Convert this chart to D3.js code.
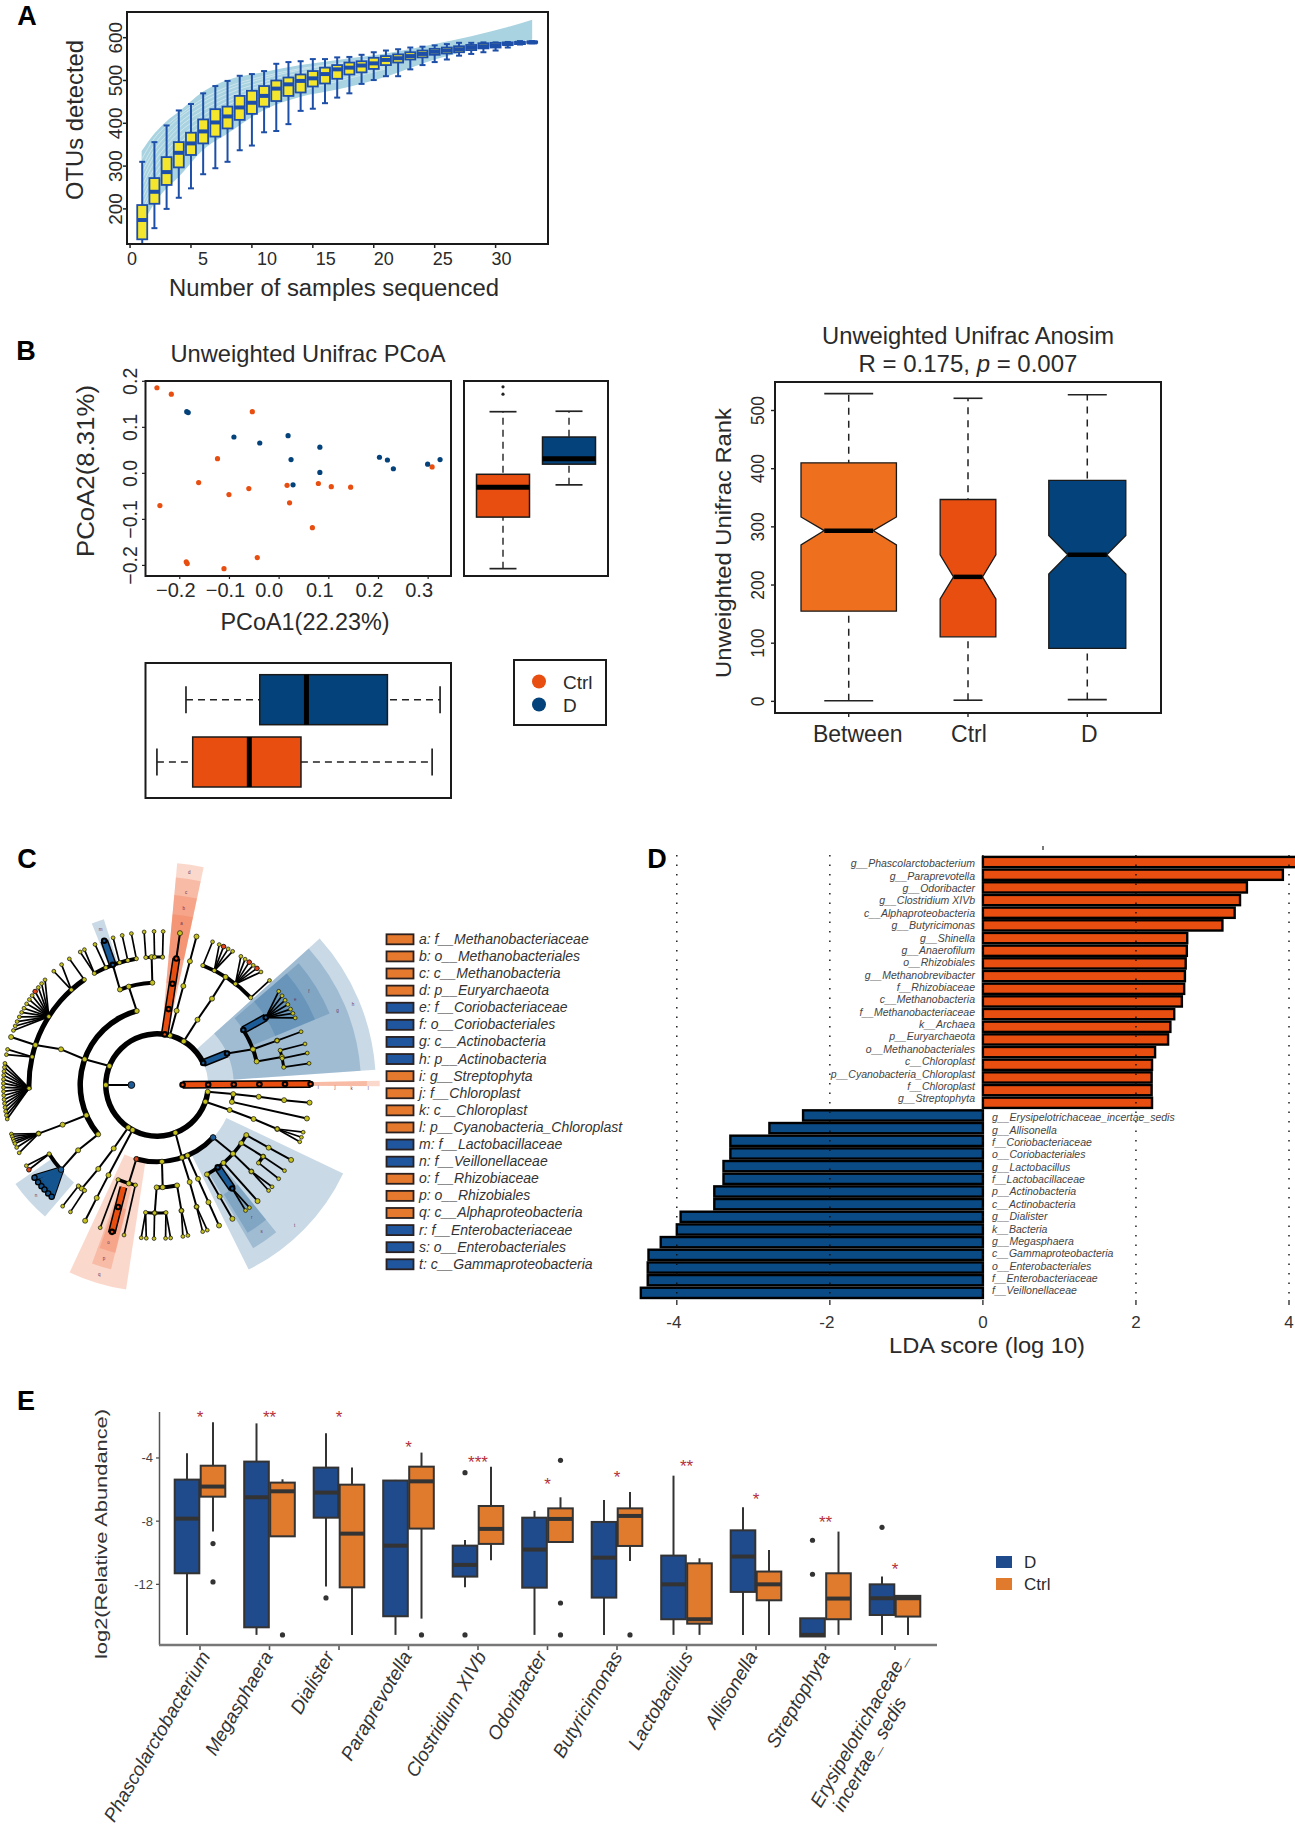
<!DOCTYPE html>
<html><head><meta charset="utf-8">
<script src="https://cdn.jsdelivr.net/npm/d3@7/dist/d3.min.js"></script>
<style>html,body{margin:0;padding:0;background:#fff}svg{display:block}text{font-family:"Liberation Sans",Arial,sans-serif}</style>
</head><body><svg id="c" width="1295" height="1830"></svg>
<script>
// ---------- Panel A data ----------
const otuSamples=d3.range(1,34);
const otuLow=[105,155,200,226,248,281,295,310,337,348,379,382,398,429,434,447,460,470,492,501,510,510,526,536,543,549,558,562,566,570,577,584,587];
const otuQ1=[129,212,256,297,326,353,369,388,408,422,439,452,464,472,486,493,504,514,519,527,536,542,549,554,560,563,566,571,575,577,583,585,588];
const otuMed=[174,240,286,331,353,381,402,416,437,448,464,481,491,499,505,515,526,530,535,540,548,552,557,562,567,570,573,577,580,582,585,588,589];
const otuQ3=[209,272,321,356,378,409,433,439,464,476,487,500,507,514,522,530,536,542,545,553,557,561,566,570,574,577,580,583,587,588,589,590,591];
const otuHigh=[310,356,395,430,445,470,487,499,511,515,522,539,543,545,550,550,554,555,560,566,570,573,577,579,582,585,588,588,589,589,590,592,592];
const bandX=[0.95,2,3,4,6,8,11,14,17,21,25,31,33];
const bandUpper=[335,376,405,427,474,501,520,536,548,563,585,625,642];
const bandLower=[159,213,248,275,338,376,431,462,479,509,549,587,595];
const curveX=[1,2,3,4,6,8,11,14,17,21];
const curves=[[318,365,395,418,458,485,510,528,540,555],[300,350,385,412,450,478,505,525,538,553],[285,338,372,400,440,469,497,518,533,549],[270,325,360,390,430,460,490,512,528,546],[255,310,348,378,419,451,482,506,523,543],[240,295,335,365,408,442,475,500,518,540],[225,280,320,352,396,433,467,494,513,536],[210,265,305,340,385,425,460,488,508,533],[197,252,292,327,373,415,452,481,503,530],[185,240,280,315,362,405,445,475,498,527]];
const otuXTicks=[0,5,10,15,20,25,30];
const otuXLabelShift=[2,12,15,13,10,8,6];
const otuYTicks=[200,300,400,500,600];

// ---------- Panel B data ----------
const ctrlPts=[[-.246,.186],[-.217,.172],[-.054,.134],[-.124,.032],[-.162,-.020],[-.240,-.070],[-.101,-.046],[-.061,-.033],[.016,-.026],[.021,-.064],[.079,-.022],[.105,-.029],[.144,-.030],[.067,-.118],[-.044,-.183],[-.187,-.192],[-.185,-.196],[-.111,-.207],[.308,.014]];
const dPts=[[-.186,.134],[-.183,.132],[-.091,.079],[-.039,.066],[.018,.082],[.082,.057],[.024,.030],[.082,.002],[.028,-.025],[.202,.035],[.218,.029],[.230,.010],[.299,.020],[.324,.030]];
const pcoaXTicks=[-.2,-.1,0,.1,.2,.3];
const pcoaYTicks=[-.2,-.1,0,.1,.2];
const pc2Ctrl=[-.207,-.095,-.03,-.002,.134], pc2D=[-.025,.020,.032,.079,.135], pc2Out=[.188,.172];
const pc1D=[-.1875,-.039,.055,.218,.324], pc1Ctrl=[-.246,-.174,-.06,.044,.308];
const anoCats=["Between","Ctrl","D"];
const anoLow=[1,2,3],anoQ1=[155,111,91],anoNL=[269,176,219],anoMed=[293.5,214,252],anoNU=[317,252,285],anoQ3=[410,347,380],anoHigh=[529,521,527];
const anoBoxW=[.8,.467,.646];
const anoCapW=[.41,.243,.327];
const anoLabelShift=[9,1,2];
const anoYTicks=[0,100,200,300,400,500];

// ---------- Panel C data ----------
const legendC=["a: f__Methanobacteriaceae","b: o__Methanobacteriales","c: c__Methanobacteria","d: p__Euryarchaeota","e: f__Coriobacteriaceae","f: o__Coriobacteriales","g: c__Actinobacteria","h: p__Actinobacteria","i: g__Streptophyta","j: f__Chloroplast","k: c__Chloroplast","l: p__Cyanobacteria_Chloroplast","m: f__Lactobacillaceae","n: f__Veillonellaceae","o: f__Rhizobiaceae","p: o__Rhizobiales","q: c__Alphaproteobacteria","r: f__Enterobacteriaceae","s: o__Enterobacteriales","t: c__Gammaproteobacteria"];
const legendCGroup=["Ctrl","Ctrl","Ctrl","Ctrl","D","D","D","D","Ctrl","Ctrl","Ctrl","Ctrl","D","D","Ctrl","Ctrl","Ctrl","D","D","D"];
const wedgesOrange=[[5.2,12.1,2,8.7],[5.2,12.1,3,8.14],[5.2,12.1,4,7.45],[5.2,12.1,5,6.7],[88.9,90.3,1,8.7],[88.9,90.3,2,8.2],[188.6,205,3,8.08],[194,200,4,7.42],[193.9,199.4,5,6.75]];
const wedgesBlue=[[48,86,2,8.55],[48,86,3,7.97],[49.3,67.5,4,7.3],[49.3,67.5,5,6.68],[115.4,153.6,3,8.05],[141,149.5,4,7.4],[141,148.5,5,6.77],[220.4,235,5,6.75],[338,342.2,5,6.8]];
const arcs=[[2,97.6,424.6,5.5],[3,230,344.7,5.5],[5,268,325.4,5],[5,330.7,350.7,4],[4,338.8,357.4,4],[5,355,362.5,3],[5,21,47,4],[4,57.5,76.7,4],[5,74.3,82,3],[3,133.1,195.6,5],[3,96.8,102.7,3.5],[4,119.3,150.8,3.5],[5,124,127.5,3.5],[4,168.7,180.2,4],[5,176,185.1,3],[4,192.2,202.3,3.5],[5,214.5,217.9,3.5],[5,228.6,237.4,4]];
const chains=[
[[291.8,2],[289.6,3],[290.4,4],[288.2,5],[288.2,6]],[[344.7,3],[344,4]],[[338.8,4],[339.8,5]],[[357.4,4],[357.6,5]],
[[14.6,2],[14.8,3],[14.9,4],[14.9,5],[14.9,6]],[[31.5,2],[31.8,3],[32.5,4],[32.4,5]],[[97.6,2],[96.8,3],[96.6,4],[96.8,5],[96.6,6]],
[[102.7,3],[102.6,6]],[[109.1,2],[109,3],[109.4,4],[110.1,5]],[[158.9,2],[161,3],[161.4,4],[162,5]],[[156.6,3],[156.4,4],[156.3,5],[156.2,6]],
[[176.3,3],[176.8,4]],[[168.7,4],[169,5]],[[180.2,4],[181,5]],[[195.6,3],[196,4]],[[214.1,2],[214.3,3],[215,4],[216,5]],[[208.5,2],[208.3,4],[208.1,5],[207.9,6]],
[[230,3],[230.4,4],[228.6,5]],[[246.8,3],[247.2,4],[247.7,5]],[[133.1,3],[132.1,4],[132.5,5]],[[69.6,4],[69.7,5]],[[76.7,4],[77.4,5]],[[65.8,3],[69.6,4]],
[[124.6,4],[124,5]],[[119.3,4],[119.3,5],[119.2,6]],[[139.5,4],[139.1,6]],[[150.8,4],[150.7,5],[150.6,6]],[[8.7,5],[8.6,6]],[[270,2],[270,1]]];
const fans=[
[302.3,5,[313.2,311.3,309.4,307.5,305.6,303.8,301.9,300,298.2,296.3,294.4,292.6,290.8]],[282.7,5,[283.4,281.4]],
[268.5,5,[278.1,276.6,275.1,273.6,272.1,270.6,269.1,267.6,266.1,264.6,263.1,261.6,260.1,258.6,257.2]],[325.4,5,[325.2]],[318,5,[321.6,317.8]],[330.7,5,[330,331.8]],[336.4,5,[336.2]],[343,5,[343.4]],[346.8,5,[346.9]],[350.7,5,[350.4]],
[355,5,[355.2]],[358.9,5,[358.9]],[2.5,5,[2.3]],[21,5,[21.2]],[26.6,5,[23.9,25.7,27.6,29.5]],[37.8,5,[33.1,35,36.9,38.8,40.6,42.6]],[47,5,[47.1]],
[58.2,5,[52.4,54.5,56.5,58.4,60.4,62.2,64.1]],[69.7,5,[69.7]],[74.3,5,[74.5]],[78,5,[78]],[82,5,[81.9]],[110.1,5,[107.9,109.9,111.7]],[144,5,[144.8,143]],[124,5,[123.9]],[127.5,5,[127.6]],[132.5,5,[131.5,133.4]],
[162,5,[162.7,160.9]],[169,5,[170.3,168.4]],[185.1,5,[185.9,184]],[181.1,5,[181.1]],[176,5,[176.8,174.9]],[217.9,5,[217.9]],[214.5,5,[214.3]],[237.4,5,[236.5,238.3]],
[247.7,5,[251.4,250.4,249.4,248.5,247.6,246,243.8]],[202.3,4,[201.7]],[192.2,4,[192.4]]];
const blueFan=[228.6,5,[232.9,230.7,228.8,227.1,225.1,223.3]];
const barsOrange=[[8.7,2,8.7,5],[89.6,1,89.6,6],[198.2,4.2,197,6.05]];
const barsBlue=[[64.6,2,65.8,3],[57.5,4,58.2,5],[339.8,5,339.9,6],[143.6,4,144,5]];
const redLeaves=[[307.5,6],[25.7,6],[36.9,6],[40.6,6],[236.5,6],[195.6,3]];
const blueNodes=[[270,1],[133.1,3],[228.6,5]];
const cladeLetters=[[8.6,8.4,"d"],[8.6,7.62,"c"],[8.6,6.97,"b"],[8.6,6.38,"a"],[90.9,6.3,"i"],[90.9,6.95,"j"],[90.9,7.6,"k"],[90.9,8.25,"l"],[67.6,8.28,"h"],[67.7,7.62,"g"],[58.3,6.97,"f"],[58.4,6.34,"e"],[135.6,7.68,"t"],[144.5,7.03,"s"],[144.4,6.35,"r"],[197,7.73,"q"],[197,7.08,"p"],[197.1,6.43,"o"],[227.6,6.4,"n"],[340,6.45,"m"]];

// ---------- Panel D data ----------
const ldaCtrlNames=["g__Phascolarctobacterium","g__Paraprevotella","g__Odoribacter","g__Clostridium XIVb","c__Alphaproteobacteria","g__Butyricimonas","g__Shinella","g__Anaerofilum","o__Rhizobiales","g__Methanobrevibacter","f__Rhizobiaceae","c__Methanobacteria","f__Methanobacteriaceae","k__Archaea","p__Euryarchaeota","o__Methanobacteriales","c__Chloroplast","p__Cyanobacteria_Chloroplast","f__Chloroplast","g__Streptophyta"];
const ldaCtrl=[4.12,3.92,3.45,3.36,3.29,3.13,2.67,2.665,2.65,2.64,2.63,2.60,2.50,2.45,2.42,2.25,2.21,2.205,2.205,2.21];
const ldaDNames=["g__Erysipelotrichaceae_incertae_sedis","g__Allisonella","f__Coriobacteriaceae","o__Coriobacteriales","g__Lactobacillus","f__Lactobacillaceae","p__Actinobacteria","c__Actinobacteria","g__Dialister","k__Bacteria","g__Megasphaera","c__Gammaproteobacteria","o__Enterobacteriales","f__Enterobacteriaceae","f__Veillonellaceae"];
const ldaD=[-2.35,-2.79,-3.30,-3.30,-3.39,-3.39,-3.51,-3.51,-3.95,-4.0,-4.21,-4.37,-4.38,-4.38,-4.47];
const ldaTicks=[-4,-2,0,2,4];

// ---------- Panel E data ----------
const genera=["Phascolarctobacterium","Megasphaera","Dialister","Paraprevotella","Clostridium XIVb","Odoribacter","Butyricimonas","Lactobacillus","Allisonella","Streptophyta","Erysipelotrichaceae_"];
const genusShift=[11,4,-4,4,9,0,6,7,2,5,14];
const genusLastLine="incertae_ sedis";
const boxD=[[-15.2,-11.3,-7.84,-5.37,-3.70],[-15.2,-14.72,-6.49,-4.23,-1.81],[-12.14,-7.78,-6.19,-4.61,-2.44],[-15.2,-14.02,-9.55,-5.43,-5.39],[-12.19,-11.51,-10.77,-9.55,-9.19],[-15.2,-12.21,-9.80,-7.78,-7.35],[-15.2,-12.84,-10.31,-8.05,-6.66],[-15.2,-14.21,-12.0,-10.18,-5.12],[-15.2,-12.48,-10.24,-8.58,-7.12],[-15.3,-15.3,-15.2,-14.15,-14.15],[-15.2,-13.94,-12.88,-12.0,-11.51]];
const boxCtrl=[[-8.66,-6.45,-5.81,-4.49,-1.74],[-8.96,-8.96,-6.11,-5.56,-5.35],[-15.2,-12.19,-8.79,-5.69,-4.61],[-14.17,-8.47,-5.48,-4.55,-3.66],[-10.48,-9.44,-8.49,-7.04,-4.55],[-9.34,-9.32,-7.86,-7.19,-6.49],[-10.52,-9.57,-7.67,-7.19,-6.15],[-15.2,-14.49,-14.21,-10.67,-10.35],[-15.2,-13.01,-12.0,-11.19,-9.82],[-15.2,-14.21,-12.9,-11.3,-8.66],[-15.2,-14.04,-12.88,-12.73,-12.73]];
const outD=[[],[],[-12.86],[],[-4.93,-15.2],[],[],[],[],[-9.21,-11.36],[-8.39]];
const outCtrl=[[-9.42,-11.85],[-15.2],[],[-15.2],[],[-4.15,-13.18,-15.2],[-15.2],[],[],[],[]];
const stars=["*","**","*","*","***","*","*","**","*","**","*"];
const starY=[-1.3,-1.3,-1.3,-3.2,-4.1,-5.5,-5.1,-4.4,-6.5,-7.9,-10.9];
const abTicks=[-4,-8,-12];

// ---------- colours ----------
const ORANGE="#E84E10",NAVY="#03427A",LORANGE="#EE6F1E",INK="#2a2a2a";
const svg=d3.select("#c");
svg.append("rect").attr("width",1295).attr("height",1830).attr("fill","#fff");
function T(str,x,y,o={}){
  const t=svg.append("text").attr("x",x).attr("y",y).text(str)
   .attr("font-size",o.size||16).attr("fill",o.fill||INK).attr("text-anchor",o.anchor||"middle");
  if(o.rot!==undefined)t.attr("transform",`rotate(${o.rot} ${x} ${y})`);
  if(o.italic)t.attr("font-style","italic");
  if(o.bold)t.attr("font-weight","bold");
  if(o.len)t.attr("textLength",o.len).attr("lengthAdjust","spacingAndGlyphs");
  return t;
}
function frame(x0,y0,x1,y1,w=2){svg.append("rect").attr("x",x0).attr("y",y0).attr("width",x1-x0).attr("height",y1-y0).attr("fill","none").attr("stroke","#1a1a1a").attr("stroke-width",w);}
function L(p,x1,y1,x2,y2,c,w,dash){const l=p.append("line").attr("x1",x1).attr("y1",y1).attr("x2",x2).attr("y2",y2).attr("stroke",c).attr("stroke-width",w);if(dash)l.attr("stroke-dasharray",dash);return l;}
[["A",27,25],["B",26,360],["C",27,868],["D",657,868],["E",26,1410]].forEach(d=>T(d[0],d[1],d[2],{size:27,bold:true,fill:"#000"}));

// ---------- Panel A ----------
(function(){
 const x=d3.scaleLinear([-0.25,34.3],[127,548]),y=d3.scaleLinear([118,660],[244,12]);
 const area=d3.area().x((d,i)=>x(bandX[i])).y0((d,i)=>y(bandLower[i])).y1(d=>y(d)).curve(d3.curveMonotoneX);
 svg.append("path").attr("d",area(bandUpper)).attr("fill","#A9D3E0");
 const line=d3.line().x((d,i)=>x(curveX[i])).y(d=>y(d)).curve(d3.curveMonotoneX);
 curves.forEach(c=>svg.append("path").attr("d",line(c)).attr("fill","none").attr("stroke","#fff").attr("stroke-opacity",.42).attr("stroke-width",1));
 const B="#1E4FA8",Y="#F4E62C";
 const g=svg.append("g");
 otuSamples.forEach((s,i)=>{
  const cx=x(s),hw=5,cap=3;
  L(g,cx,Math.min(y(otuLow[i]),243),cx,y(otuHigh[i]),B,2);
  L(g,cx-cap,y(otuHigh[i]),cx+cap,y(otuHigh[i]),B,2);
  if(otuLow[i]>=118)L(g,cx-cap,y(otuLow[i]),cx+cap,y(otuLow[i]),B,2);
  g.append("rect").attr("x",cx-hw).attr("y",y(otuQ3[i])).attr("width",2*hw).attr("height",y(otuQ1[i])-y(otuQ3[i])).attr("fill",Y).attr("stroke",B).attr("stroke-width",1.8);
  L(g,cx-hw,y(otuMed[i]),cx+hw,y(otuMed[i]),B,4);
 });
 frame(127,12,548,244,2);
 otuXTicks.forEach((t,i)=>{L(svg,x(t),244,x(t),248,"#222",1.5);T(t,x(t)+otuXLabelShift[i],265,{size:18});});
 otuYTicks.forEach(t=>{T(t,122,y(t),{size:19,rot:-90});L(svg,123,y(t),127,y(t),"#222",1.5);});
 T("OTUs detected",83,120,{size:24,rot:-90,len:160});
 T("Number of samples sequenced",334,296,{size:23.5,len:330});
})();

// ---------- Panel B ----------
(function(){
 const x=d3.scaleLinear([-.269,.346],[145.5,451]),y=d3.scaleLinear([-.223,.2007],[576,381]);
 svg.selectAll(".pc").data(ctrlPts).enter().append("circle").attr("cx",d=>x(d[0])).attr("cy",d=>y(d[1])).attr("r",2.6).attr("fill",ORANGE);
 svg.selectAll(".pd").data(dPts).enter().append("circle").attr("cx",d=>x(d[0])).attr("cy",d=>y(d[1])).attr("r",2.6).attr("fill",NAVY);
 frame(145.5,381,451,576);
 const xShift=[-4,-4,-10,-9,-9,-9];
 pcoaXTicks.forEach((t,i)=>{L(svg,x(t),576,x(t),579,"#222",1.2);T((t<0?"−":"")+Math.abs(t).toFixed(1),x(t)+xShift[i],597,{size:20});});
 pcoaYTicks.forEach(t=>{L(svg,142,y(t),145.5,y(t),"#222",1.2);T((t<0?"−":"")+Math.abs(t).toFixed(1),137,y(t),{size:19.5,rot:-90});});
 T("Unweighted Unifrac PCoA",308,362,{size:24,len:275});
 T("PCoA1(22.23%)",305,630,{size:23,len:169});
 T("PCoA2(8.31%)",94,471,{size:23,rot:-90,len:172});
 // right marginal box
 frame(464,381,608,576);
 const vbox=(v,c,cx)=>{
  L(svg,cx,y(v[0]),cx,y(v[4]),"#222",1.4,"7 5");
  L(svg,cx-13.5,y(v[0]),cx+13.5,y(v[0]),"#222",1.7);
  L(svg,cx-13.5,y(v[4]),cx+13.5,y(v[4]),"#222",1.7);
  svg.append("rect").attr("x",cx-26.5).attr("y",y(v[3])).attr("width",53).attr("height",y(v[1])-y(v[3])).attr("fill",c).attr("stroke","#1a1a1a").attr("stroke-width",1.5);
  L(svg,cx-26.5,y(v[2]),cx+26.5,y(v[2]),"#000",5);
 };
 vbox(pc2Ctrl,ORANGE,503); vbox(pc2D,NAVY,569);
 pc2Out.forEach(v=>svg.append("circle").attr("cx",503).attr("cy",y(v)).attr("r",1.6).attr("fill","#222"));
 // bottom marginal box
 frame(145.5,663,451,798);
 const hbox=(v,c,cy)=>{
  L(svg,x(v[0]),cy,x(v[4]),cy,"#222",1.6,"7 5");
  L(svg,x(v[0]),cy-13.5,x(v[0]),cy+13.5,"#222",1.7);
  L(svg,x(v[4]),cy-13.5,x(v[4]),cy+13.5,"#222",1.7);
  svg.append("rect").attr("x",x(v[1])).attr("y",cy-25).attr("width",x(v[3])-x(v[1])).attr("height",50).attr("fill",c).attr("stroke","#1a1a1a").attr("stroke-width",1.5);
  L(svg,x(v[2]),cy-25,x(v[2]),cy+25,"#000",5);
 };
 hbox(pc1D,NAVY,699.7); hbox(pc1Ctrl,ORANGE,762);
 // legend
 frame(514,660,606,725);
 svg.append("circle").attr("cx",539).attr("cy",681.5).attr("r",7).attr("fill",ORANGE);
 svg.append("circle").attr("cx",539).attr("cy",704.5).attr("r",7).attr("fill",NAVY);
 T("Ctrl",563,689,{size:19,anchor:"start"});
 T("D",563,712,{size:19,anchor:"start"});

 // Anosim
 const X=d3.scaleLinear([.382,3.618],[775,1161]),Y=d3.scaleLinear([-20,549],[713,382]);
 frame(775,382,1161,713);
 const cols=[LORANGE,ORANGE,NAVY],unit=X(2)-X(1);
 anoCats.forEach((c,i)=>{
  const cx=X(i+1),hw=anoBoxW[i]*unit/2,cw=anoCapW[i]*unit/2;
  L(svg,cx,Y(anoLow[i]),cx,Y(anoHigh[i]),"#222",1.5,"7 6");
  L(svg,cx-cw,Y(anoLow[i]),cx+cw,Y(anoLow[i]),"#222",1.6);
  L(svg,cx-cw,Y(anoHigh[i]),cx+cw,Y(anoHigh[i]),"#222",1.6);
  const pts=[[cx-hw,anoQ1[i]],[cx-hw,anoNL[i]],[cx-cw,anoMed[i]],[cx-hw,anoNU[i]],[cx-hw,anoQ3[i]],[cx+hw,anoQ3[i]],[cx+hw,anoNU[i]],[cx+cw,anoMed[i]],[cx+hw,anoNL[i]],[cx+hw,anoQ1[i]]];
  svg.append("path").attr("d",d3.line().x(d=>d[0]).y(d=>Y(d[1])).curve(d3.curveLinearClosed)(pts)).attr("fill",cols[i]).attr("stroke","#1a1a1a").attr("stroke-width",1.3);
  L(svg,cx-cw,Y(anoMed[i]),cx+cw,Y(anoMed[i]),"#000",4.5);
  L(svg,cx,713,cx,717,"#222",1.4);
  T(c,cx+anoLabelShift[i],742,{size:23});
 });
 anoYTicks.forEach(t=>{L(svg,771,Y(t),775,Y(t),"#222",1.4);T(t,764,Y(t),{size:17.5,rot:-90});});
 T("Unweighted Unifrac Rank",731,543,{size:22.5,rot:-90,len:270});
 T("Unweighted Unifrac Anosim",968,344,{size:23,len:292});
 const t2=svg.append("text").attr("x",968).attr("y",372).attr("text-anchor","middle").attr("font-size",24).attr("fill",INK);
 t2.append("tspan").text("R = 0.175, ");
 t2.append("tspan").attr("font-style","italic").text("p");
 t2.append("tspan").text(" = 0.007");
})();

// ---------- Panel C ----------
(function(){
 const cg=svg.append("g").attr("transform","translate(157,1085)");
 const r=d3.scaleLinear([0,6],[0,153.6]);
 const rad=a=>a*Math.PI/180;
 const pt=(a,l)=>d3.pointRadial(rad(a),r(l));
 const arc=d3.arc();
 const wedge=(w,c,op)=>cg.append("path").attr("d",arc({innerRadius:r(w[2]),outerRadius:r(w[3]),startAngle:rad(w[0]),endAngle:rad(w[1])})).attr("fill",c).attr("fill-opacity",op);
 wedgesOrange.forEach(w=>wedge(w,"#EE6A3A",.26));
 wedgesBlue.forEach(w=>wedge(w,"#1F5F96",.24));
 arcs.forEach(a=>cg.append("path").attr("d",arc({innerRadius:r(a[0])-a[3]/2,outerRadius:r(a[0])+a[3]/2,startAngle:rad(a[1]),endAngle:rad(a[2])})).attr("fill","#000"));
 const nodes=[];
 const seg=(a,b,w,c)=>{const p=pt(a[0],a[1]),q=pt(b[0],b[1]);return L(cg,p[0],p[1],q[0],q[1],c||"#000",w);};
 chains.forEach(ch=>{for(let i=1;i<ch.length;i++)seg(ch[i-1],ch[i],2);ch.forEach(n=>nodes.push([n[0],n[1],2.5]));});
 fans.forEach(f=>{f[2].forEach(l=>{seg([f[0],f[1]],[l,6],1.7);nodes.push([l,6,1.9]);});nodes.push([f[0],f[1],2.1]);});
 // blue-filled fan
 blueFan[2].forEach(l=>{seg([blueFan[0],blueFan[1]],[l,6],6.5,"#000");});
 blueFan[2].forEach(l=>{seg([blueFan[0],blueFan[1]],[l,6],4.5,"#14548F");});
 const bar=(b,c)=>{
  seg([b[0],b[1]],[b[2],b[3]],8,"#000");seg([b[0],b[1]],[b[2],b[3]],5,c);
  for(let l=Math.ceil(b[1]);l<=Math.floor(b[3]);l++){const a=b[0]+(b[2]-b[0])*(l-b[1])/(b[3]-b[1]);const p=pt(a,l);
   cg.append("circle").attr("cx",p[0]).attr("cy",p[1]).attr("r",3.3).attr("fill","#000");
   cg.append("circle").attr("cx",p[0]).attr("cy",p[1]).attr("r",1.2).attr("fill",c);}
 };
 nodes.forEach(n=>{const p=pt(n[0],n[1]);cg.append("circle").attr("cx",p[0]).attr("cy",p[1]).attr("r",n[2]).attr("fill","#C5C11E").attr("stroke","#111").attr("stroke-width",.7);});
 blueFan[2].forEach(l=>{const p=pt(l,6);cg.append("circle").attr("cx",p[0]).attr("cy",p[1]).attr("r",2.6).attr("fill","#14548F").attr("stroke","#000").attr("stroke-width",1.3);});
 barsOrange.forEach(b=>bar(b,"#E84E10"));
 barsBlue.forEach(b=>bar(b,"#1B5C98"));
 redLeaves.forEach(n=>{const p=pt(n[0],n[1]);cg.append("circle").attr("cx",p[0]).attr("cy",p[1]).attr("r",2.3).attr("fill","#E0451A").attr("stroke","#111").attr("stroke-width",.8);});
 blueNodes.forEach(n=>{const p=pt(n[0],n[1]);cg.append("circle").attr("cx",p[0]).attr("cy",p[1]).attr("r",n[1]==1?3.4:2.8).attr("fill","#1B5C98").attr("stroke","#111").attr("stroke-width",1);});
 cladeLetters.forEach(n=>{const p=pt(n[0],n[1]);cg.append("text").attr("x",p[0]).attr("y",p[1]+1.5).attr("text-anchor","middle").attr("font-size",4.5).attr("fill","#6d3355").text(n[2]);});
 const ly=d3.scaleLinear([0,19],[939.3,1264.3]);
 legendC.forEach((s,i)=>{
  svg.append("rect").attr("x",386.5).attr("y",ly(i)-5).attr("width",27).attr("height",10).attr("fill",legendCGroup[i]=="Ctrl"?"#E57A2E":"#1F569E").attr("stroke","#2a2020").attr("stroke-width",1.8);
  T(s,419,ly(i)+4.5,{size:14,anchor:"start",italic:true,fill:"#333"});
 });
})();

// ---------- Panel D ----------
(function(){
 const x=d3.scaleLinear([-4,4],[676.8,1289]);
 const all=ldaCtrl.concat(ldaD),names=ldaCtrlNames.concat(ldaDNames);
 const y=d3.scaleBand(d3.range(all.length),[855.7,1299.2]);
 const labelCtrlY=d3.scaleLinear([0,19],[863.7,1098.7]),labelDY=d3.scaleLinear([0,14],[1117.7,1290.7]);
 svg.append("clipPath").attr("id","dc").append("rect").attr("width",1295).attr("height",1830);
 svg.append("g").attr("clip-path","url(#dc)").selectAll("rect").data(all).enter().append("rect")
  .attr("x",d=>Math.min(x(0),x(d))).attr("width",d=>Math.abs(x(d)-x(0))).attr("y",(d,i)=>y(i)+1.2).attr("height",y.bandwidth()-2.4)
  .attr("fill",(d,i)=>i<ldaCtrl.length?ORANGE:"#0A4A85").attr("stroke","#000").attr("stroke-width",2.4);
 names.forEach((s,i)=>{
  const c=i<ldaCtrl.length;
  T(s,c?975:992,(c?labelCtrlY(i):labelDY(i-ldaCtrl.length))+3.6,{size:10.5,anchor:c?"end":"start",italic:true,fill:"#444"});
 });
 ldaTicks.forEach(t=>{
  L(svg,x(t),855,x(t),1300,"#111",1.4,"1.6 7.9");
  L(svg,x(t),1300,x(t),1305,"#333",1.4);
  T(t,x(t)-(t<0?3:0),1328,{size:17,fill:"#333"});
 });
 L(svg,1043,846,1043,850,"#222",1.2);
 T("LDA score (log 10)",987,1353,{size:22,len:196});
})();

// ---------- Panel E ----------
(function(){
 const x=d3.scalePoint(genera,[200,895]);
 const y=d3.scaleLinear([-15.84,-1.09],[1645,1412]);
 const DB="#1F4A8C",CO="#E07B2E",S="#333";
 const draw=(v,out,cx,col)=>{
  const hw=12.3;
  L(svg,cx,y(v[0]),cx,y(v[4]),S,2);
  svg.append("rect").attr("x",cx-hw).attr("y",y(v[3])).attr("width",2*hw).attr("height",Math.max(1,y(v[1])-y(v[3]))).attr("fill",col).attr("stroke",S).attr("stroke-width",2);
  L(svg,cx-hw,y(v[2]),cx+hw,y(v[2]),S,4);
  out.forEach(o=>svg.append("circle").attr("cx",cx).attr("cy",y(o)).attr("r",2.6).attr("fill",S));
 };
 genera.forEach((g,i)=>{
  const c=x(g);
  draw(boxD[i],outD[i],c-13,DB);
  draw(boxCtrl[i],outCtrl[i],c+13,CO);
  L(svg,c,1645,c,1650,"#555",1.6);
  T(stars[i],c,y(starY[i])+8,{size:17,fill:"#B5303A"});
  T(g,c+genusShift[i],1656,{size:19,anchor:"end",italic:true,rot:-60,fill:"#333"});
 });
 T(genusLastLine,907,1702,{size:19,anchor:"end",italic:true,rot:-60,fill:"#333"});
 L(svg,159.5,1412,159.5,1645,"#555",1.5);
 L(svg,159,1645,937,1645,"#777",2.6);
 abTicks.forEach(t=>{L(svg,156,y(t),159,y(t),"#444",1.2);T(t,153,y(t)+4.5,{size:13,anchor:"end",fill:"#444"});});
 T("log2(Relative Abundance)",107,1534,{size:17,rot:-90,len:250,fill:"#333"});
 [["D",DB,1562],["Ctrl",CO,1584]].forEach(d=>{
  svg.append("rect").attr("x",996).attr("y",d[2]-6).attr("width",16).attr("height",12).attr("fill",d[1]);
  T(d[0],1024,d[2]+6,{size:17,anchor:"start"});
 });
})();
</script></body></html>
